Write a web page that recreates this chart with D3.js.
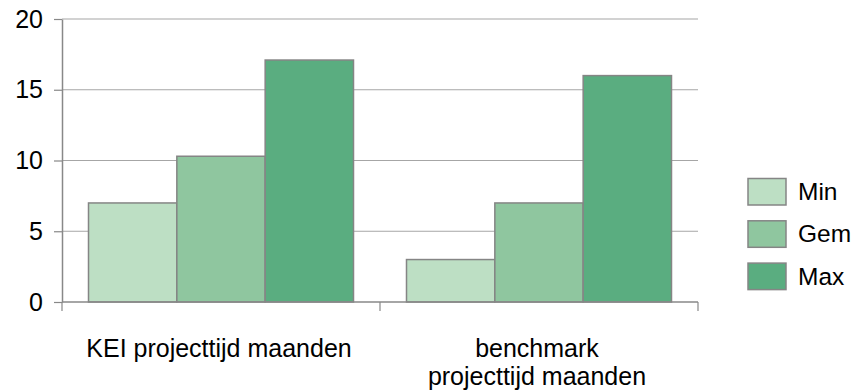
<!DOCTYPE html>
<html><head><meta charset="utf-8">
<script src="https://cdn.jsdelivr.net/npm/d3@7"></script>
<style>body{margin:0;background:#fff}text{font-family:"Liberation Sans",Arial,sans-serif;fill:#000}</style>
</head><body><svg id="c" width="856" height="392"></svg>
<script>
const categories = [["KEI projecttijd maanden"], ["benchmark", "projecttijd maanden"]];
const categoryKeys = ["KEI projecttijd maanden", "benchmark projecttijd maanden"];
const seriesNames = ["Min", "Gem", "Max"];
const minValues = [7, 3];
const gemValues = [10.3, 7];
const maxValues = [17.1, 16];
const yTicks = [0, 5, 10, 15, 20];
const colors = ["#bddfc4", "#8fc69f", "#5aad80"];

const seriesValues = [minValues, gemValues, maxValues];
const svg = d3.select("#c");
const x = d3.scaleBand().domain(categoryKeys).range([62, 698]).padding(0);
const xs = d3.scaleBand().domain(seriesNames).range([0, x.bandwidth()]).paddingInner(0).paddingOuter(0.3);
const y = d3.scaleLinear().domain([0, 20]).range([302, 19]);

// gridlines
svg.append("g").selectAll("line").data(yTicks.filter(d => d > 0)).join("line")
  .attr("x1", 62).attr("x2", 698).attr("y1", d => y(d)).attr("y2", d => y(d))
  .attr("stroke", "#a6a6a6").attr("stroke-width", 1.2);

// bars
categoryKeys.forEach((c, i) => {
  svg.append("g").selectAll("rect").data(seriesNames).join("rect")
    .attr("x", s => x(c) + xs(s)).attr("width", xs.bandwidth())
    .attr("y", (s, j) => y(seriesValues[j][i]))
    .attr("height", (s, j) => y(0) - y(seriesValues[j][i]))
    .attr("fill", (s, j) => colors[j]).attr("stroke", "#858585").attr("stroke-width", 1.5);
});

// y axis
const ya = svg.append("g").attr("transform", "translate(62,0)")
  .call(d3.axisLeft(y).tickValues(yTicks).tickSize(8).tickPadding(11).tickSizeOuter(0));
ya.select(".domain").attr("stroke", "#888").attr("stroke-width", 1.5);
ya.selectAll(".tick line").attr("stroke", "#888").attr("stroke-width", 1.2);
ya.selectAll("text").style("font-size", "25px").attr("fill", "#000").attr("font-family", null);

// x axis
svg.append("line").attr("x1", 62).attr("x2", 698).attr("y1", y(0)).attr("y2", y(0))
  .attr("stroke", "#888").attr("stroke-width", 1.5);
const xt = [62].concat(categoryKeys.map(c => x(c) + x.bandwidth()));
svg.append("g").selectAll("line").data(xt).join("line")
  .attr("x1", d => d).attr("x2", d => d).attr("y1", y(0)).attr("y2", y(0) + 9)
  .attr("stroke", "#888").attr("stroke-width", 1.2);

categoryKeys.forEach((c, i) => {
  const cx = x(c) + x.bandwidth() / 2 - 2;
  const t = svg.append("text").attr("text-anchor", "middle").style("font-size", "25px")
    .attr("x", cx).attr("y", 357);
  categories[i].forEach((line, k) => {
    t.append("tspan").attr("x", cx).attr("dy", k === 0 ? 0 : 27.5).text(line);
  });
});

// legend
const lg = svg.append("g").selectAll("g").data(seriesNames).join("g")
  .attr("transform", (d, i) => `translate(748,${178.5 + i * 42.3})`);
lg.append("rect").attr("width", 38).attr("height", 26.5)
  .attr("fill", (d, i) => colors[i]).attr("stroke", "#858585").attr("stroke-width", 1.5);
lg.append("text").attr("x", 50).attr("y", 21.5).style("font-size", "24.5px").text(d => d);
</script></body></html>
